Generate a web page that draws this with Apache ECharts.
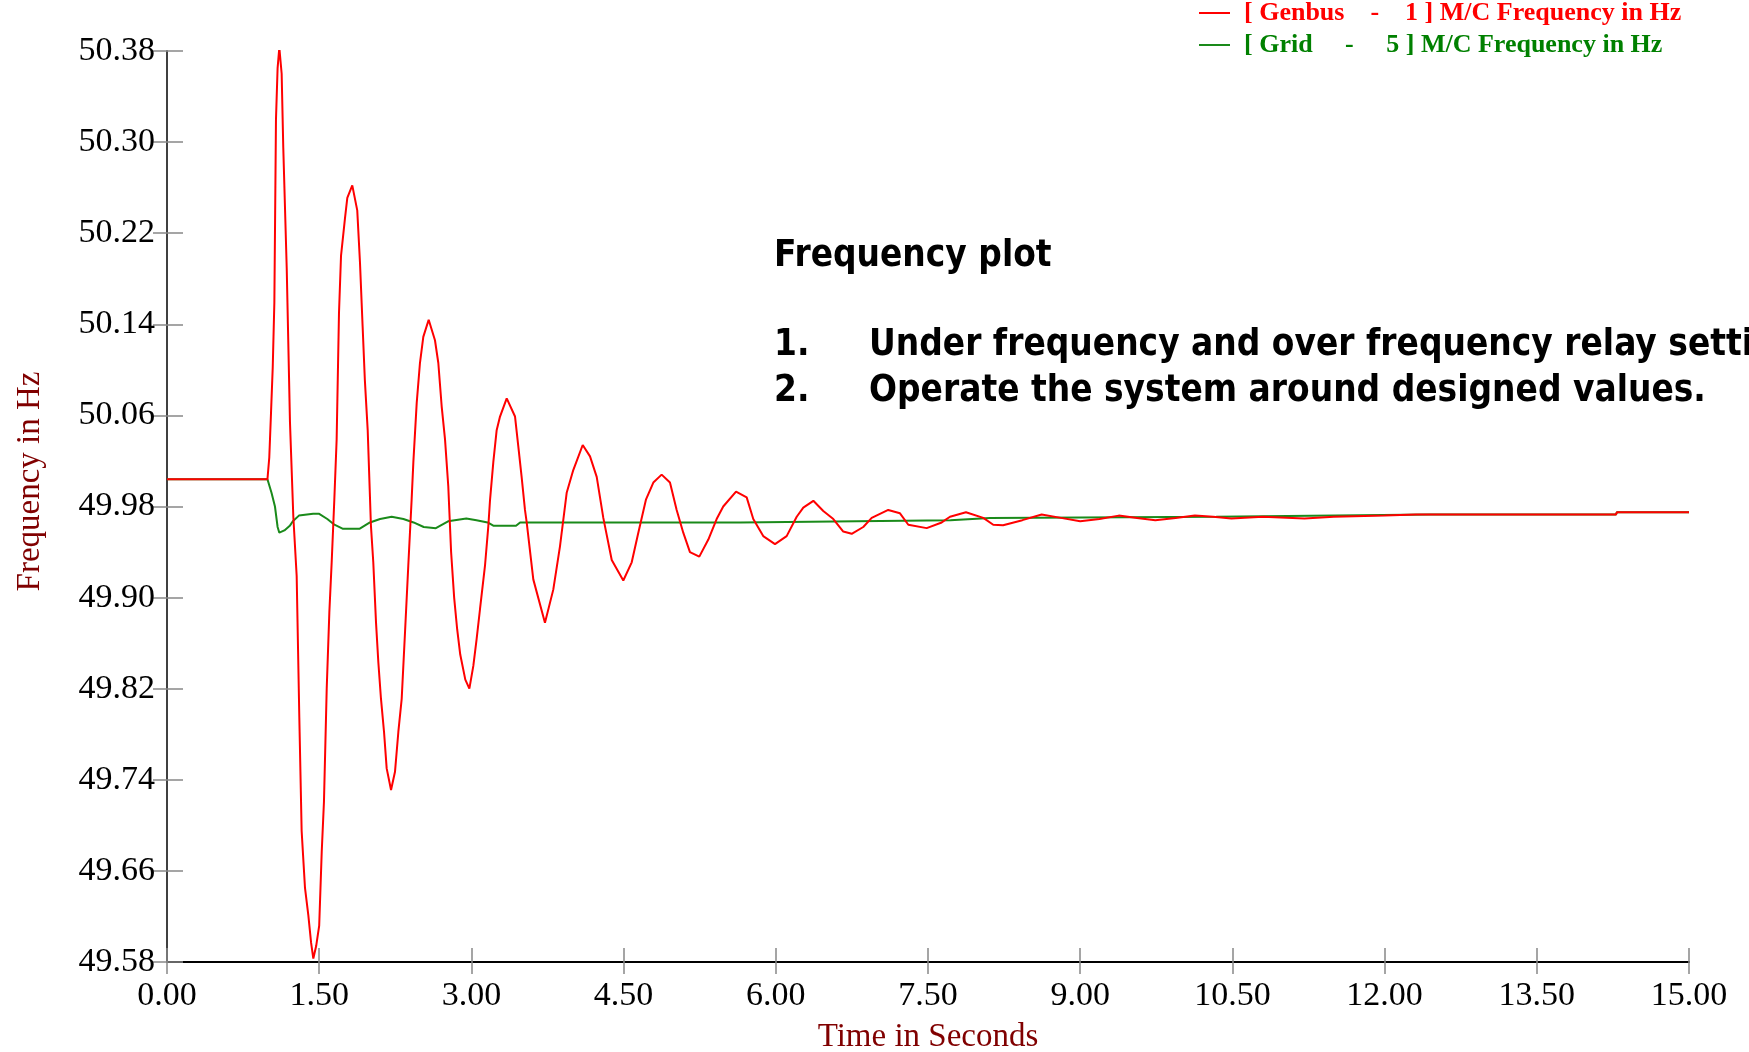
<!DOCTYPE html>
<html>
<head>
<meta charset="utf-8">
<script src="https://cdn.jsdelivr.net/npm/echarts@6/dist/echarts.min.js"></script>
<style>html,body{margin:0;padding:0;background:#fff}#c{width:1749px;height:1052px}</style>
</head>
<body>
<div id="c"></div>
<script>
// ---- data ----
const xTicks = [0, 1.5, 3, 4.5, 6, 7.5, 9, 10.5, 12, 13.5, 15];
const yTicks = [49.58, 49.66, 49.74, 49.82, 49.90, 49.98, 50.06, 50.14, 50.22, 50.30, 50.38];

const seriesNames = [
  '[ Genbus\u00a0\u00a0\u00a0\u00a0-\u00a0\u00a0\u00a0\u00a01 ] M/C Frequency in Hz',
  '[ Grid\u00a0\u00a0\u00a0\u00a0\u00a0-\u00a0\u00a0\u00a0\u00a0\u00a05 ] M/C Frequency in Hz'
];

const genbusTime = [
  0, 0.99, 1.008, 1.025, 1.042, 1.058, 1.074, 1.09, 1.107, 1.13,
  1.146, 1.18, 1.212, 1.245, 1.278, 1.304, 1.327, 1.36, 1.393, 1.42,
  1.442, 1.47, 1.50, 1.525, 1.547, 1.574, 1.60, 1.623, 1.649, 1.672,
  1.695, 1.715, 1.754, 1.777, 1.826, 1.875, 1.902, 1.928, 1.95, 1.978,
  2.01, 2.033, 2.06, 2.083, 2.109, 2.139, 2.165, 2.208, 2.247, 2.28,
  2.313, 2.346, 2.378, 2.411, 2.428, 2.461, 2.493, 2.526, 2.579, 2.641,
  2.674, 2.707, 2.74, 2.772, 2.80, 2.83, 2.86, 2.89, 2.94, 2.98,
  3.019, 3.052, 3.085, 3.134, 3.167, 3.183, 3.216, 3.249, 3.282, 3.348,
  3.43, 3.462, 3.495, 3.528, 3.545, 3.61, 3.725, 3.807, 3.873, 3.939,
  4.004, 4.097, 4.169, 4.235, 4.30, 4.383, 4.497, 4.58, 4.645, 4.72,
  4.793, 4.875, 4.957, 5.023, 5.088, 5.154, 5.246, 5.335, 5.417, 5.482,
  5.608, 5.713, 5.778, 5.876, 5.992, 6.107, 6.206, 6.271, 6.37, 6.468,
  6.567, 6.665, 6.748, 6.862, 6.945, 7.108, 7.224, 7.306, 7.487, 7.635,
  7.717, 7.874, 8.045, 8.143, 8.24, 8.43, 8.62, 8.81, 9.0, 9.19,
  9.38, 9.56, 9.74, 9.94, 10.13, 10.31, 10.49, 10.8, 11.21, 11.5,
  12.0, 12.31, 12.45, 14.28, 14.29, 15.0
];
const genbusFreq = [
  50.004, 50.004, 50.023, 50.062, 50.102, 50.159, 50.32, 50.365, 50.383, 50.36,
  50.295, 50.189, 50.054, 49.971, 49.919, 49.795, 49.695, 49.645, 49.621, 49.597,
  49.583, 49.594, 49.612, 49.677, 49.721, 49.82, 49.887, 49.931, 49.986, 50.039,
  50.15, 50.2, 50.233, 50.251, 50.262, 50.24, 50.194, 50.138, 50.091, 50.047,
  49.963, 49.931, 49.878, 49.843, 49.811, 49.782, 49.75, 49.731, 49.747, 49.782,
  49.811, 49.87, 49.928, 49.986, 50.019, 50.071, 50.106, 50.129, 50.144, 50.126,
  50.106, 50.068, 50.039, 49.998, 49.94, 49.90, 49.872, 49.85, 49.828, 49.82,
  49.84, 49.864, 49.89, 49.928, 49.963, 49.985, 50.019, 50.047, 50.059, 50.075,
  50.059, 50.033, 50.006, 49.977, 49.966, 49.916, 49.878, 49.907, 49.945, 49.992,
  50.012, 50.034, 50.024, 50.006, 49.97, 49.933, 49.915, 49.931, 49.957, 49.986,
  50.001, 50.008, 50.001, 49.977, 49.957, 49.94, 49.936, 49.951, 49.969, 49.98,
  49.993, 49.988, 49.969, 49.954, 49.947, 49.954, 49.971, 49.979, 49.985, 49.976,
  49.969, 49.958, 49.956, 49.962, 49.970, 49.977, 49.974, 49.964, 49.961, 49.966,
  49.971, 49.975, 49.970, 49.964, 49.9635, 49.968, 49.973, 49.970, 49.967, 49.969,
  49.972, 49.970, 49.968, 49.970, 49.972, 49.971, 49.9695, 49.971, 49.9695, 49.971,
  49.972, 49.973, 49.973, 49.973, 49.975, 49.975
];

const gridTime = [
  0, 0.99, 1.03, 1.064, 1.09, 1.107, 1.157, 1.21, 1.24, 1.30,
  1.44, 1.50, 1.58, 1.65, 1.73, 1.90, 2.0, 2.1, 2.214, 2.33,
  2.43, 2.53, 2.65, 2.77, 2.95, 3.05, 3.16, 3.22, 3.44, 3.48,
  5.65, 7.72, 8.11, 10.34, 12.45, 14.28, 14.29, 15.0
];
const gridFreq = [
  50.004, 50.004, 49.992, 49.98, 49.962, 49.957, 49.959, 49.963, 49.967, 49.972,
  49.9736, 49.9736, 49.969, 49.964, 49.9605, 49.9605, 49.966, 49.969, 49.971, 49.969,
  49.966, 49.962, 49.961, 49.967, 49.9695, 49.968, 49.966, 49.963, 49.963, 49.966,
  49.966, 49.968, 49.970, 49.971, 49.973, 49.973, 49.975, 49.975
];

const noteTitle = 'Frequency plot';
const noteNums = ['1.', '2.'];
const noteLines = ['Under frequency and over frequency relay settings', 'Operate the system around designed values.'];

// ---- chart ----
const pair = (ts, vs) => ts.map((t, i) => [t, vs[i]]);
const serif = 'Liberation Serif';
const labelStyle = { fontFamily: serif, fontSize: 34, color: '#000' };
const nameStyle = { fontFamily: serif, fontSize: 33, color: '#800000' };
const fmt = v => Number(v).toFixed(2);

const chart = echarts.init(document.getElementById('c'), null, { renderer: 'canvas' });
const noteFont = 'bold 38px "DejaVu Sans"';
const sx = 0.867;
chart.setOption({
  animation: false,
  backgroundColor: '#fff',
  grid: { left: 167, right: 60, top: 51, bottom: 90, containLabel: false, outerBoundsMode: 'none' },
  legend: {
    orient: 'vertical', left: 1199, top: 0, padding: 0,
    icon: 'rect', itemWidth: 31, itemHeight: 2, itemGap: 6,
    selectedMode: false,
    textStyle: { fontFamily: serif, fontWeight: 'bold', fontSize: 26, lineHeight: 26, padding: [0, 0, 0, 9] },
    data: [
      { name: seriesNames[0], textStyle: { color: '#ff0000' } },
      { name: seriesNames[1], textStyle: { color: '#008000' } }
    ]
  },
  xAxis: [
    {
      type: 'value', min: 0, max: 15, interval: 1.5, position: 'bottom',
      axisLine: { show: true, onZero: false, lineStyle: { color: '#000', width: 2 } },
      axisTick: { show: true, length: 12, lineStyle: { color: '#888', width: 1.5 } },
      axisLabel: Object.assign({ formatter: fmt, margin: 17 }, labelStyle),
      splitLine: { show: false },
      name: 'Time in Seconds', nameLocation: 'middle', nameGap: 59, nameTextStyle: nameStyle
    },
    {
      type: 'value', min: 0, max: 15, interval: 1.5, position: 'bottom', offset: 0,
      axisLine: { show: false },
      axisTick: { show: true, inside: true, length: 14, lineStyle: { color: '#888', width: 1.5 } },
      axisLabel: { show: false }, splitLine: { show: false }
    }
  ],
  yAxis: [
    {
      type: 'value', min: 49.58, max: 50.38, position: 'left',
      axisLine: { show: true, onZero: false, lineStyle: { color: '#404040', width: 2 } },
      axisTick: { show: true, length: 14, customValues: yTicks, lineStyle: { color: '#888', width: 1.5 } },
      axisLabel: Object.assign({ formatter: fmt, margin: 12, customValues: yTicks }, labelStyle),
      splitLine: { show: false },
      name: 'Frequency in Hz', nameLocation: 'middle', nameGap: 120,
      nameTextStyle: Object.assign({ padding: [0, 0, 0, 50] }, nameStyle)
    },
    {
      type: 'value', min: 49.58, max: 50.38, position: 'left', offset: 0,
      axisLine: { show: false },
      axisTick: { show: true, inside: true, length: 16, customValues: yTicks, lineStyle: { color: '#888', width: 1.5 } },
      axisLabel: { show: false }, splitLine: { show: false }
    }
  ],
  series: [
    {
      name: seriesNames[0], type: 'line', xAxisIndex: 0, yAxisIndex: 0, z: 3,
      data: pair(genbusTime, genbusFreq), showSymbol: false, symbol: 'none',
      lineStyle: { color: '#ff0000', width: 2 }, itemStyle: { color: '#ff0000' }
    },
    {
      name: seriesNames[1], type: 'line', xAxisIndex: 0, yAxisIndex: 0, z: 2,
      data: pair(gridTime, gridFreq), showSymbol: false, symbol: 'none',
      lineStyle: { color: '#1a8a1a', width: 2 }, itemStyle: { color: '#1a8a1a' }
    }
  ],
  graphic: [
    { type: 'text', x: 774, y: 256, scaleX: sx, style: { text: noteTitle, font: noteFont, fill: '#000', verticalAlign: 'middle', textVerticalAlign: 'middle' } },
    { type: 'text', x: 774, y: 345, scaleX: sx, style: { text: noteNums[0], font: noteFont, fill: '#000', verticalAlign: 'middle', textVerticalAlign: 'middle' } },
    { type: 'text', x: 869, y: 345, scaleX: sx, style: { text: noteLines[0], font: noteFont, fill: '#000', verticalAlign: 'middle', textVerticalAlign: 'middle' } },
    { type: 'text', x: 774, y: 391, scaleX: sx, style: { text: noteNums[1], font: noteFont, fill: '#000', verticalAlign: 'middle', textVerticalAlign: 'middle' } },
    { type: 'text', x: 869, y: 391, scaleX: sx, style: { text: noteLines[1], font: noteFont, fill: '#000', verticalAlign: 'middle', textVerticalAlign: 'middle' } }
  ]
});
</script>
</body>
</html>
